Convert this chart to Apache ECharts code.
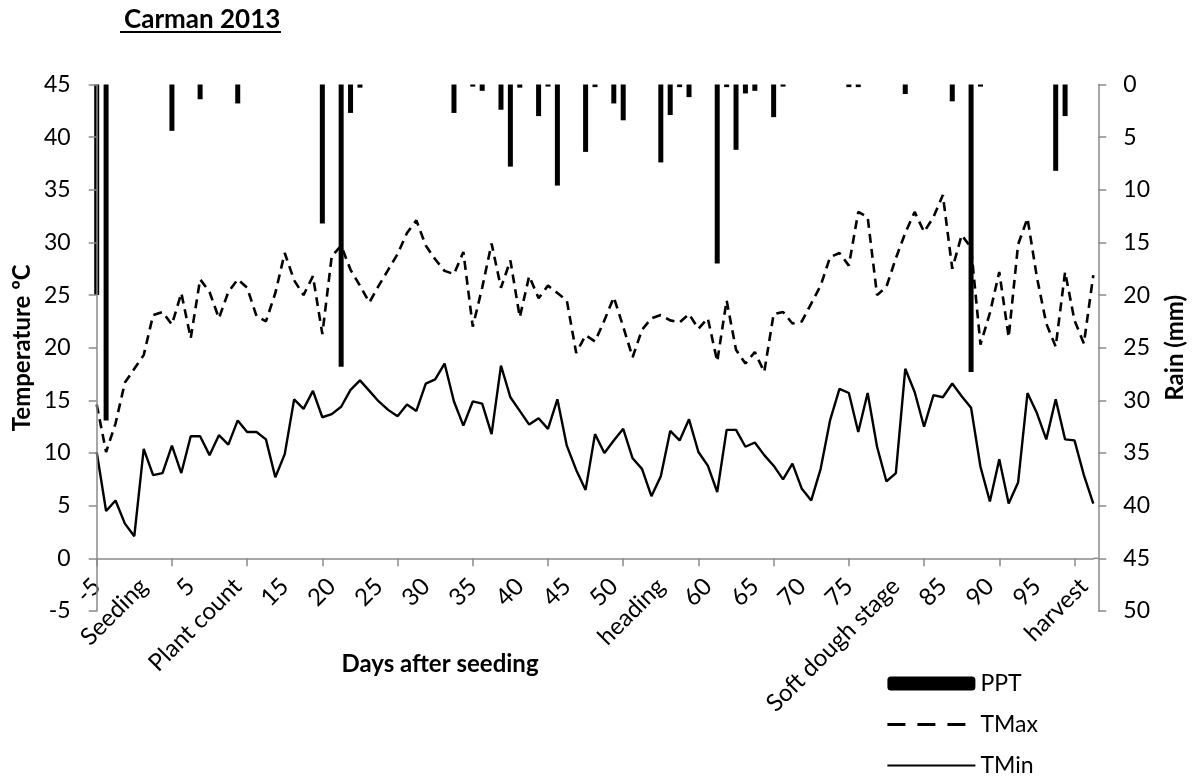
<!DOCTYPE html>
<html>
<head>
<meta charset="utf-8">
<script src="https://cdn.jsdelivr.net/npm/echarts@6/dist/echarts.min.js"></script>
<style>
html,body{margin:0;padding:0;background:#fff;}
#c{width:1194px;height:778px;}
</style>
</head>
<body>
<div id="c"></div>
<script>
// ---- data ----
const days = [-5,-4,-3,-2,-1,0,1,2,3,4,
  5,6,7,8,9,10,11,12,13,14,
  15,16,17,18,19,20,21,22,23,24,
  25,26,27,28,29,30,31,32,33,34,
  35,36,37,38,39,40,41,42,43,44,
  45,46,47,48,49,50,51,52,53,54,
  55,56,57,58,59,60,61,62,63,64,
  65,66,67,68,69,70,71,72,73,74,
  75,76,77,78,79,80,81,82,83,84,
  85,86,87,88,89,90,91,92,93,94,
  95,96,97,98,99,100,101];

const stageLabels = {0:'Seeding', 10:'Plant count', 55:'heading', 80:'Soft dough stage', 100:'harvest'};

const tmax = [14.6,10.1,12.8,16.7,18.0,19.3,23.1,23.4,22.2,25.2,
  20.9,26.5,25.3,22.8,25.3,26.5,25.7,23.0,22.5,25.2,
  29.0,26.4,25.0,26.8,21.3,28.7,29.7,27.4,25.9,24.3,
  25.9,27.4,28.9,30.9,32.1,29.7,28.4,27.3,27.0,29.1,
  22.0,25.7,29.9,25.7,28.3,22.9,26.8,24.7,25.9,25.2,
  24.5,19.5,21.2,20.6,22.6,24.8,22.0,19.1,21.7,22.8,
  23.1,22.6,22.4,23.2,21.8,22.8,18.7,24.5,19.8,18.5,
  19.6,17.7,23.2,23.4,22.3,22.5,24.2,25.9,28.6,29.0,
  27.8,32.9,32.4,25.0,25.8,28.5,30.9,32.9,31.0,32.4,
  34.5,27.5,30.7,29.5,20.3,23.3,27.2,21.0,29.8,32.3,
  26.7,22.3,20.1,27.2,22.6,20.4,26.9];

const tmin = [10.1,4.5,5.5,3.3,2.1,10.4,7.9,8.1,10.7,8.1,
  11.6,11.6,9.8,11.7,10.8,13.1,12.0,12.0,11.3,7.7,
  9.9,15.1,14.2,15.9,13.4,13.7,14.4,16.0,16.9,15.9,
  14.9,14.1,13.5,14.6,14.0,16.6,17.0,18.5,14.9,12.6,
  14.9,14.7,11.8,18.3,15.3,14.0,12.7,13.3,12.3,15.1,
  10.7,8.4,6.5,11.8,10.0,11.2,12.3,9.5,8.5,5.9,
  7.8,12.1,11.2,13.2,10.1,8.8,6.3,12.2,12.2,10.6,
  11.0,9.8,8.8,7.5,9.0,6.6,5.5,8.5,13.1,16.1,
  15.7,12.0,15.7,10.6,7.3,8.1,18.0,15.8,12.5,15.5,
  15.3,16.6,15.4,14.3,8.7,5.4,9.4,5.2,7.2,15.7,
  13.8,11.3,15.1,11.3,11.2,7.9,5.2];

const ppt = [20.0,31.9,0,0,0,0,0,0,4.4,0,
  0,1.4,0,0,0,1.8,0,0,0,0,
  0,0,0,0,13.2,0,26.8,2.7,0.3,0,
  0,0,0,0,0,0,0,0,2.7,0,
  0.2,0.6,0,2.4,7.8,0.3,0,3.0,0.2,9.6,
  0,0,6.4,0.25,0,1.8,3.4,0,0,0,
  7.4,2.9,0.25,1.2,0,0,17.0,0.25,6.2,0.85,
  0.6,0,3.1,0.2,0,0,0,0,0,0,
  0.25,0.25,0,0,0,0,0.9,0,0,0,
  0,1.6,0,27.3,0.2,0,0,0,0,0,
  0,0,8.2,3.0,0,0,0];

const tempAxis = {min:-5, max:45, step:5};
const rainAxis = {min:0, max:50, step:5};

// ---- chart ----
const FONT = 'Lato';
const AX = '#8a8a8a';
const categories = days.map(d => (stageLabels[d] !== undefined ? stageLabels[d] : String(d)));

const W = 1194, H = 778;
const G = {left:96.7, right:100.7, top:84.5, bottom:167};
const gridH = H - G.top - G.bottom;
// the category axis crosses the temperature axis at 0
const xAxisOffset = -gridH * (0 - tempAxis.min) / (tempAxis.max - tempAxis.min);

const chart = echarts.init(document.getElementById('c'), null, {renderer:'canvas'});

const option = {
  animation:false,
  backgroundColor:'#ffffff',
  textStyle:{fontFamily:FONT},
  title:{
    text:'Carman 2013', left:119, top:2,
    textStyle:{fontFamily:FONT, fontWeight:'bold', fontSize:26, color:'#000'}
  },
  legend:{
    orient:'vertical', left:886, top:672, padding:0,
    itemWidth:88, itemHeight:14, itemGap:18, selectedMode:false,
    data:[
      'PPT',
      {name:'TMax', itemStyle:{opacity:0}, lineStyle:{type:[18,12], width:2.8}},
      {name:'TMin', itemStyle:{opacity:0}}
    ],
    textStyle:{fontFamily:FONT, fontSize:23, color:'#000'}
  },
  grid:{left:G.left, right:G.right, top:G.top, bottom:G.bottom, containLabel:false, outerBoundsMode:'none'},
  xAxis:{
    type:'category', data:categories, boundaryGap:false, position:'bottom', offset:xAxisOffset,
    axisLine:{onZero:false, lineStyle:{color:AX, width:1.5}},
    axisTick:{show:true, interval:7, length:8, lineStyle:{color:AX, width:1.5}},
    axisLabel:{interval:4, rotate:45, margin:24, fontSize:24, color:'#000', fontFamily:FONT, hideOverlap:false},
    splitLine:{show:false},
    name:'Days after seeding', nameLocation:'middle', nameGap:94, nameMoveOverlap:false,
    nameTextStyle:{fontFamily:FONT, fontSize:24, fontWeight:'bold', color:'#000', padding:[0,310,0,0]}
  },
  yAxis:[
    {
      type:'value', position:'left', z:10, min:tempAxis.min, max:tempAxis.max, interval:tempAxis.step,
      axisLine:{show:true, onZero:false, lineStyle:{color:AX, width:1.5}},
      axisTick:{show:true, length:8, lineStyle:{color:AX, width:1.5}},
      axisLabel:{margin:26, fontSize:23, color:'#000', fontFamily:FONT},
      splitLine:{show:false},
      name:'Temperature ºC', nameLocation:'middle', nameRotate:90, nameGap:62, nameMoveOverlap:false,
      nameTextStyle:{fontFamily:FONT, fontSize:24, fontWeight:'bold', color:'#000'}
    },
    {
      type:'value', position:'right', offset:5, inverse:true,
      min:rainAxis.min, max:rainAxis.max, interval:rainAxis.step,
      axisLine:{show:true, onZero:false, lineStyle:{color:AX, width:1.5}},
      axisTick:{show:true, length:8, lineStyle:{color:AX, width:1.5}},
      axisLabel:{margin:25, fontSize:23, color:'#000', fontFamily:FONT},
      splitLine:{show:false},
      name:'Rain (mm)', nameLocation:'middle', nameRotate:90, nameGap:65, nameMoveOverlap:false,
      nameTextStyle:{fontFamily:FONT, fontSize:24, fontWeight:'bold', color:'#000'}
    }
  ],
  series:[
    {name:'PPT', type:'bar', yAxisIndex:1, data:ppt, barWidth:5, z:3, clip:true,
      itemStyle:{color:'#000'}},
    {name:'TMax', type:'line', yAxisIndex:0, data:tmax, symbol:'none', showSymbol:false,
      lineStyle:{color:'#000', width:2.6, type:[9,6]}, itemStyle:{color:'#000'}},
    {name:'TMin', type:'line', yAxisIndex:0, data:tmin, symbol:'none', showSymbol:false,
      lineStyle:{color:'#000', width:2.4}, itemStyle:{color:'#000'}}
  ]
};
chart.setOption(option);

// decorative: title underline and x-axis line reaching the offset right axis
const y0 = chart.convertToPixel({yAxisIndex:0}, 0);
const xEnd = chart.convertToPixel({xAxisIndex:0}, categories.length - 1);
chart.setOption({
  graphic:[
    {id:'ul', type:'line', shape:{x1:120, y1:32, x2:281, y2:32}, style:{stroke:'#000', lineWidth:2}},
    {id:'ext', type:'line', shape:{x1:xEnd, y1:y0, x2:xEnd + 5, y2:y0}, style:{stroke:AX, lineWidth:1.5}}
  ]
});
</script>
</body>
</html>
